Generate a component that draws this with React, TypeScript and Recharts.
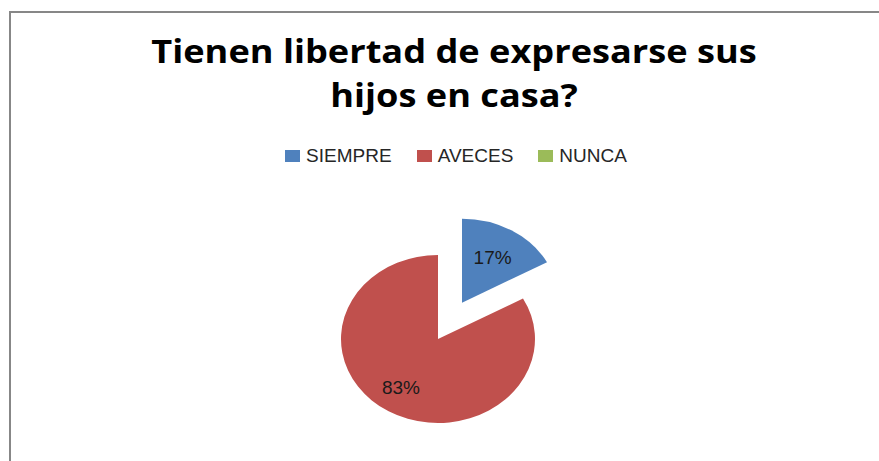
import React from "react";
import { PieChart, Pie, Cell } from "recharts";

const categories = ["SIEMPRE", "AVECES", "NUNCA"];
const values = [17, 83, 0];
const colors = ["#4F81BD", "#C0504D", "#9BBB59"];
const explodedIndex = 0;

const data = categories.map((name, i) => ({ name, value: values[i] }));

// the original pie is a little wider than tall
const SQUASH = 0.866;
const ORIGIN_Y = 339;
const RADIAN = Math.PI / 180;

const makeLabel = (showExploded: boolean) => (props: any) => {
  const { cx, cy, midAngle, outerRadius, percent, index } = props;
  if ((index === explodedIndex) !== showExploded) return null;
  if (!percent) return null;
  const r = outerRadius * (showExploded ? 0.62 : 0.67);
  const x = cx + r * Math.cos(-midAngle * RADIAN) - (showExploded ? 0 : 4);
  const y = cy + r * Math.sin(-midAngle * RADIAN);
  return (
    <text
      x={x}
      y={y}
      textAnchor="middle"
      dominantBaseline="central"
      fill="#1a1a1a"
      fontSize={19}
      fontFamily="'Liberation Sans', Arial, sans-serif"
      transform={`translate(${x} ${y}) scale(1 ${1 / SQUASH}) translate(${-x} ${-y})`}
    >
      {`${Math.round(percent * 100)}%`}
    </text>
  );
};

export default function App() {
  return (
    <div
      style={{
        position: "absolute",
        left: 0,
        top: 0,
        width: 879,
        height: 461,
        overflow: "hidden",
        background: "#fff",
      }}
    >
      {/* chart frame, runs off the right and bottom edge */}
      <div
        style={{
          position: "absolute",
          left: 9,
          top: 11,
          width: 920,
          height: 520,
          border: "2px solid #878787",
        }}
      />

      <div
        style={{
          position: "absolute",
          left: 0,
          width: 908,
          top: 29,
          textAlign: "center",
          fontFamily: "'Open Sans', Lato, sans-serif",
          fontWeight: 700,
          fontSize: 32,
          lineHeight: "44px",
          color: "#000",
          transform: "scaleX(1.13)",
          transformOrigin: "454px 0px",
        }}
      >
        Tienen libertad de expresarse sus
        <br />
        hijos en casa?
      </div>

      <div
        style={{
          position: "absolute",
          left: 0,
          width: 912,
          top: 144,
          display: "flex",
          justifyContent: "center",
          gap: 25,
          fontFamily: "'Liberation Sans', Arial, sans-serif",
          fontSize: 19,
          lineHeight: "24px",
          color: "#262626",
        }}
      >
        {categories.map((c, i) => (
          <div key={c} style={{ display: "flex", alignItems: "center", gap: 6 }}>
            <span style={{ width: 15, height: 12, background: colors[i], display: "inline-block" }} />
            <span>{c}</span>
          </div>
        ))}
      </div>

      <div
        style={{
          position: "absolute",
          left: 0,
          top: 0,
          width: 879,
          height: 461,
          transform: `scaleY(${SQUASH})`,
          transformOrigin: `0px ${ORIGIN_Y}px`,
        }}
      >
        <PieChart width={879} height={461} margin={{ top: 0, right: 0, bottom: 0, left: 0 }}>
          <Pie
            data={data}
            dataKey="value"
            nameKey="name"
            cx={438}
            cy={ORIGIN_Y}
            outerRadius={97}
            startAngle={90}
            endAngle={-270}
            label={makeLabel(false)}
            labelLine={false}
            isAnimationActive={false}
          >
            {data.map((d, i) => (
              <Cell key={d.name} fill={i === explodedIndex ? "none" : colors[i]} stroke="none" />
            ))}
          </Pie>
          <Pie
            data={data}
            dataKey="value"
            nameKey="name"
            cx={462}
            cy={ORIGIN_Y - 42}
            outerRadius={97}
            startAngle={90}
            endAngle={-270}
            label={makeLabel(true)}
            labelLine={false}
            isAnimationActive={false}
          >
            {data.map((d, i) => (
              <Cell key={d.name} fill={i === explodedIndex ? colors[i] : "none"} stroke="none" />
            ))}
          </Pie>
        </PieChart>
      </div>
    </div>
  );
}
